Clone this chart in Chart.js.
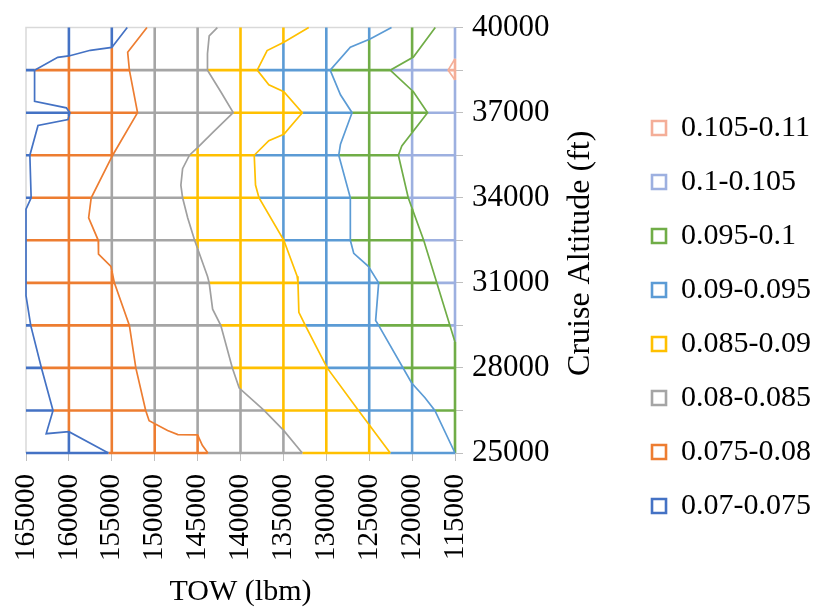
<!DOCTYPE html>
<html>
<head>
<meta charset="utf-8">
<script src="https://cdn.jsdelivr.net/npm/chart.js@4"></script>
<style>
  body { margin: 0; background: #ffffff; }
  #wrap { width: 821px; height: 613px; }
</style>
</head>
<body>
<div id="wrap"><canvas id="contour" width="821" height="613"></canvas></div>
<script>
// Grid of the wireframe surface
const TOW_TICKS = [165000, 160000, 155000, 150000, 145000, 140000, 135000, 130000, 125000, 120000, 115000];
const ALT_LEVELS = [25000, 26500, 28000, 29500, 31000, 32500, 34000, 35500, 37000, 38500, 40000];

// Value bands (legend) and their colours
const BANDS = ['0.07-0.075', '0.075-0.08', '0.08-0.085', '0.085-0.09', '0.09-0.095', '0.095-0.1', '0.1-0.105', '0.105-0.11'];
const BAND_COLORS = ['#4472C4', '#ED7D31', '#A5A5A5', '#FFC000', '#5B9BD5', '#70AD47', '#9DB0E0', '#F4AE98'];

// Contour boundaries, [TOW, altitude], top to bottom
const c075 = [[153200, 40000], [155000, 39300], [157500, 39200], [160000, 39000], [161300, 38950], [164000, 38500],
  [164000, 37400], [160300, 37170], [159900, 37000], [160100, 36760], [163600, 36550], [164550, 35500], [164400, 34000],
  [165000, 33600], [165000, 30550], [164450, 29500], [163200, 28000], [161850, 26500], [162650, 25680], [160000, 25750],
  [155400, 25000]];
const c080 = [[150900, 40000], [153150, 39130], [152950, 38500], [152000, 37000], [154900, 35500], [157400, 34000],
  [157700, 33290], [156580, 32500], [156550, 32010], [155100, 31580], [154700, 31000], [152950, 29500], [152200, 28000],
  [151050, 26500], [150650, 26140], [148500, 25790], [147300, 25650], [145000, 25640], [144450, 25270], [143800, 25000]];
const c085 = [[142700, 40000], [143650, 39710], [143850, 39080], [143850, 38500], [142300, 37740], [140850, 37000],
  [143250, 36300], [144800, 35830], [145950, 35500], [146750, 35025], [146950, 34445], [146750, 34000], [146150, 33290],
  [145350, 32500], [143850, 31230], [143650, 31000], [143250, 30070], [142300, 29500], [140950, 28000], [140150, 27290],
  [137250, 26500], [134950, 25790], [132800, 25000]];
const c090 = [[132050, 40000], [134950, 39480], [136900, 39190], [138050, 38500], [136700, 37980], [134950, 37740],
  [132800, 37000], [134950, 36240], [136700, 36010], [138400, 35500], [138250, 34450], [137850, 34000], [134950, 32500],
  [133400, 31230], [133300, 31000], [133200, 29960], [132450, 29500], [129900, 28000], [126250, 26500], [122550, 25000]];
const c095 = [[122400, 40000], [124900, 39600], [127200, 39310], [129550, 38500], [128350, 37630], [127000, 37000],
  [128350, 35890], [128550, 35500], [127200, 34000], [127200, 32500], [126800, 32040], [125100, 31580], [123900, 31000],
  [124250, 29670], [123900, 29500], [120050, 27470], [118500, 26950], [117350, 26500], [115000, 25000]];
const c100 = [[117300, 40000], [119850, 38960], [122550, 38500], [119850, 37740], [118200, 37000], [121200, 35830],
  [121600, 35500], [120450, 34000], [118650, 32500], [115000, 28910]];
const c105 = [[115000, 38900], [115800, 38500], [115000, 38150]];

const CONTOURS = [c075, c080, c085, c090, c095, c100, c105];
const CONTOUR_COLORS = ['#4472C4', '#ED7D31', '#A0A0A0', '#FFC000', '#5B9BD5', '#70AD47', '#F4AE98'];

const FONT = '"Liberation Serif", "Times New Roman", serif';

// closing the high side of every contour outside the plotted domain
const CLOSE = [[110000, 20000], [110000, 45000]];

function inside(pt, poly) {
  let hit = false;
  for (let i = 0, j = poly.length - 1; i < poly.length; j = i++) {
    const a = poly[i], b = poly[j];
    if ((a[1] > pt[1]) !== (b[1] > pt[1])) {
      const x = a[0] + (pt[1] - a[1]) / (b[1] - a[1]) * (b[0] - a[0]);
      if (x > pt[0]) hit = !hit;
    }
  }
  return hit;
}

function bandAt(x, y) {
  return CONTOURS.filter(c => inside([x, y], c.concat(CLOSE))).length;
}

// positions along a grid line where the contours cross it
function splits(fixed, value, lo, hi) {
  const out = [lo, hi];
  const other = 1 - fixed;
  CONTOURS.forEach(c => {
    for (let i = 0; i < c.length - 1; i++) {
      const p = c[i], q = c[i + 1];
      const a = p[fixed] - value, b = q[fixed] - value;
      if (a * b > 0 || p[fixed] === q[fixed]) continue;
      const t = a / (a - b);
      const v = p[other] + t * (q[other] - p[other]);
      if (v > lo && v < hi) out.push(v);
    }
  });
  return out.sort((m, n) => m - n);
}

const bandData = BANDS.map(() => []);

function addLine(fixed, value, lo, hi) {
  const s = splits(fixed, value, lo, hi);
  let start = s[0];
  let band = null;
  const pt = v => fixed === 1 ? {x: v, y: value} : {x: value, y: v};
  for (let i = 0; i < s.length - 1; i++) {
    if (s[i + 1] - s[i] < 1e-6) continue;
    const mid = (s[i] + s[i + 1]) / 2;
    const b = fixed === 1 ? bandAt(mid, value) : bandAt(value, mid);
    if (band !== null && b !== band) {
      bandData[band].push(pt(start), pt(s[i]), {x: pt(s[i]).x, y: null});
      start = s[i];
    }
    band = b;
  }
  bandData[band].push(pt(start), pt(s[s.length - 1]), {x: pt(s[s.length - 1]).x, y: null});
}

// top row and left column are the grey plot border
ALT_LEVELS.filter(a => a !== 40000).forEach(a => addLine(1, a, 115000, 165000));
TOW_TICKS.filter(t => t !== 165000).forEach(t => addLine(0, t, 25000, 40000));

const datasets = BANDS.map((label, i) => ({
  label: label,
  data: bandData[i],
  borderColor: BAND_COLORS[i],
  backgroundColor: '#ffffff',
  borderWidth: 2.6,
  pointRadius: 0,
  fill: false,
  clip: false,
  order: 1
}));

CONTOURS.forEach((c, i) => {
  datasets.push({
    label: 'contour ' + i,
    data: c.map(p => ({x: p[0], y: p[1]})),
    borderColor: CONTOUR_COLORS[i],
    borderWidth: 1.7,
    pointRadius: 0,
    fill: false,
    clip: false,
    order: 0
  });
});

datasets.push({
  label: 'border',
  data: [{x: 165000, y: 25000}, {x: 165000, y: 40000}, {x: 115000, y: 40000}],
  borderColor: '#D9D9D9',
  borderWidth: 1.5,
  pointRadius: 0,
  fill: false,
  clip: false,
  order: 2
});

// rotated y title reads bottom to top, as in the source
const yTitle = {
  id: 'yTitle',
  afterDraw(chart) {
    const {ctx, chartArea} = chart;
    ctx.save();
    ctx.translate(chartArea.right + 126, (chartArea.top + chartArea.bottom) / 2 + 13);
    ctx.rotate(-Math.PI / 2);
    ctx.font = '32px ' + FONT;
    ctx.fillStyle = '#000000';
    ctx.textAlign = 'center';
    ctx.textBaseline = 'middle';
    ctx.fillText('Cruise Altitude (ft)', 0, 0);
    ctx.restore();
  }
};

Chart.defaults.font.family = FONT;
Chart.defaults.color = '#000000';

new Chart(document.getElementById('contour'), {
  type: 'line',
  data: {datasets: datasets},
  options: {
    responsive: false,
    animation: false,
    events: [],
    layout: {padding: {left: 26, top: 21, right: 0, bottom: 0}},
    plugins: {
      tooltip: {enabled: false},
      legend: {
        position: 'right',
        reverse: true,
        labels: {
          boxWidth: 14,
          boxHeight: 14,
          padding: 24,
          color: '#000000',
          font: {size: 30},
          filter: item => item.datasetIndex < BANDS.length
        }
      }
    },
    scales: {
      x: {
        type: 'linear',
        min: 115000,
        max: 165000,
        reverse: true,
        ticks: {
          stepSize: 5000,
          autoSkip: false,
          minRotation: 90,
          maxRotation: 90,
          padding: 13,
          color: '#000000',
          font: {size: 29},
          callback: v => String(v)
        },
        grid: {drawOnChartArea: false, tickLength: 8, color: '#BFBFBF'},
        border: {display: false},
        title: {display: true, text: 'TOW (lbm)', color: '#000000', font: {size: 30}, padding: {top: 0, bottom: 3}},
        afterFit: s => { s.height = 160; }
      },
      y: {
        type: 'linear',
        position: 'right',
        min: 25000,
        max: 40000,
        ticks: {
          stepSize: 1500,
          autoSkip: false,
          padding: 9,
          color: '#000000',
          font: {size: 31},
          callback: v => (v - 25000) % 3000 === 0 ? String(v) : ''
        },
        grid: {drawOnChartArea: false, tickLength: 8, color: '#BFBFBF'},
        border: {display: false},
        afterFit: s => { s.width = 173; }
      }
    }
  },
  plugins: [yTitle]
});
</script>
</body>
</html>
